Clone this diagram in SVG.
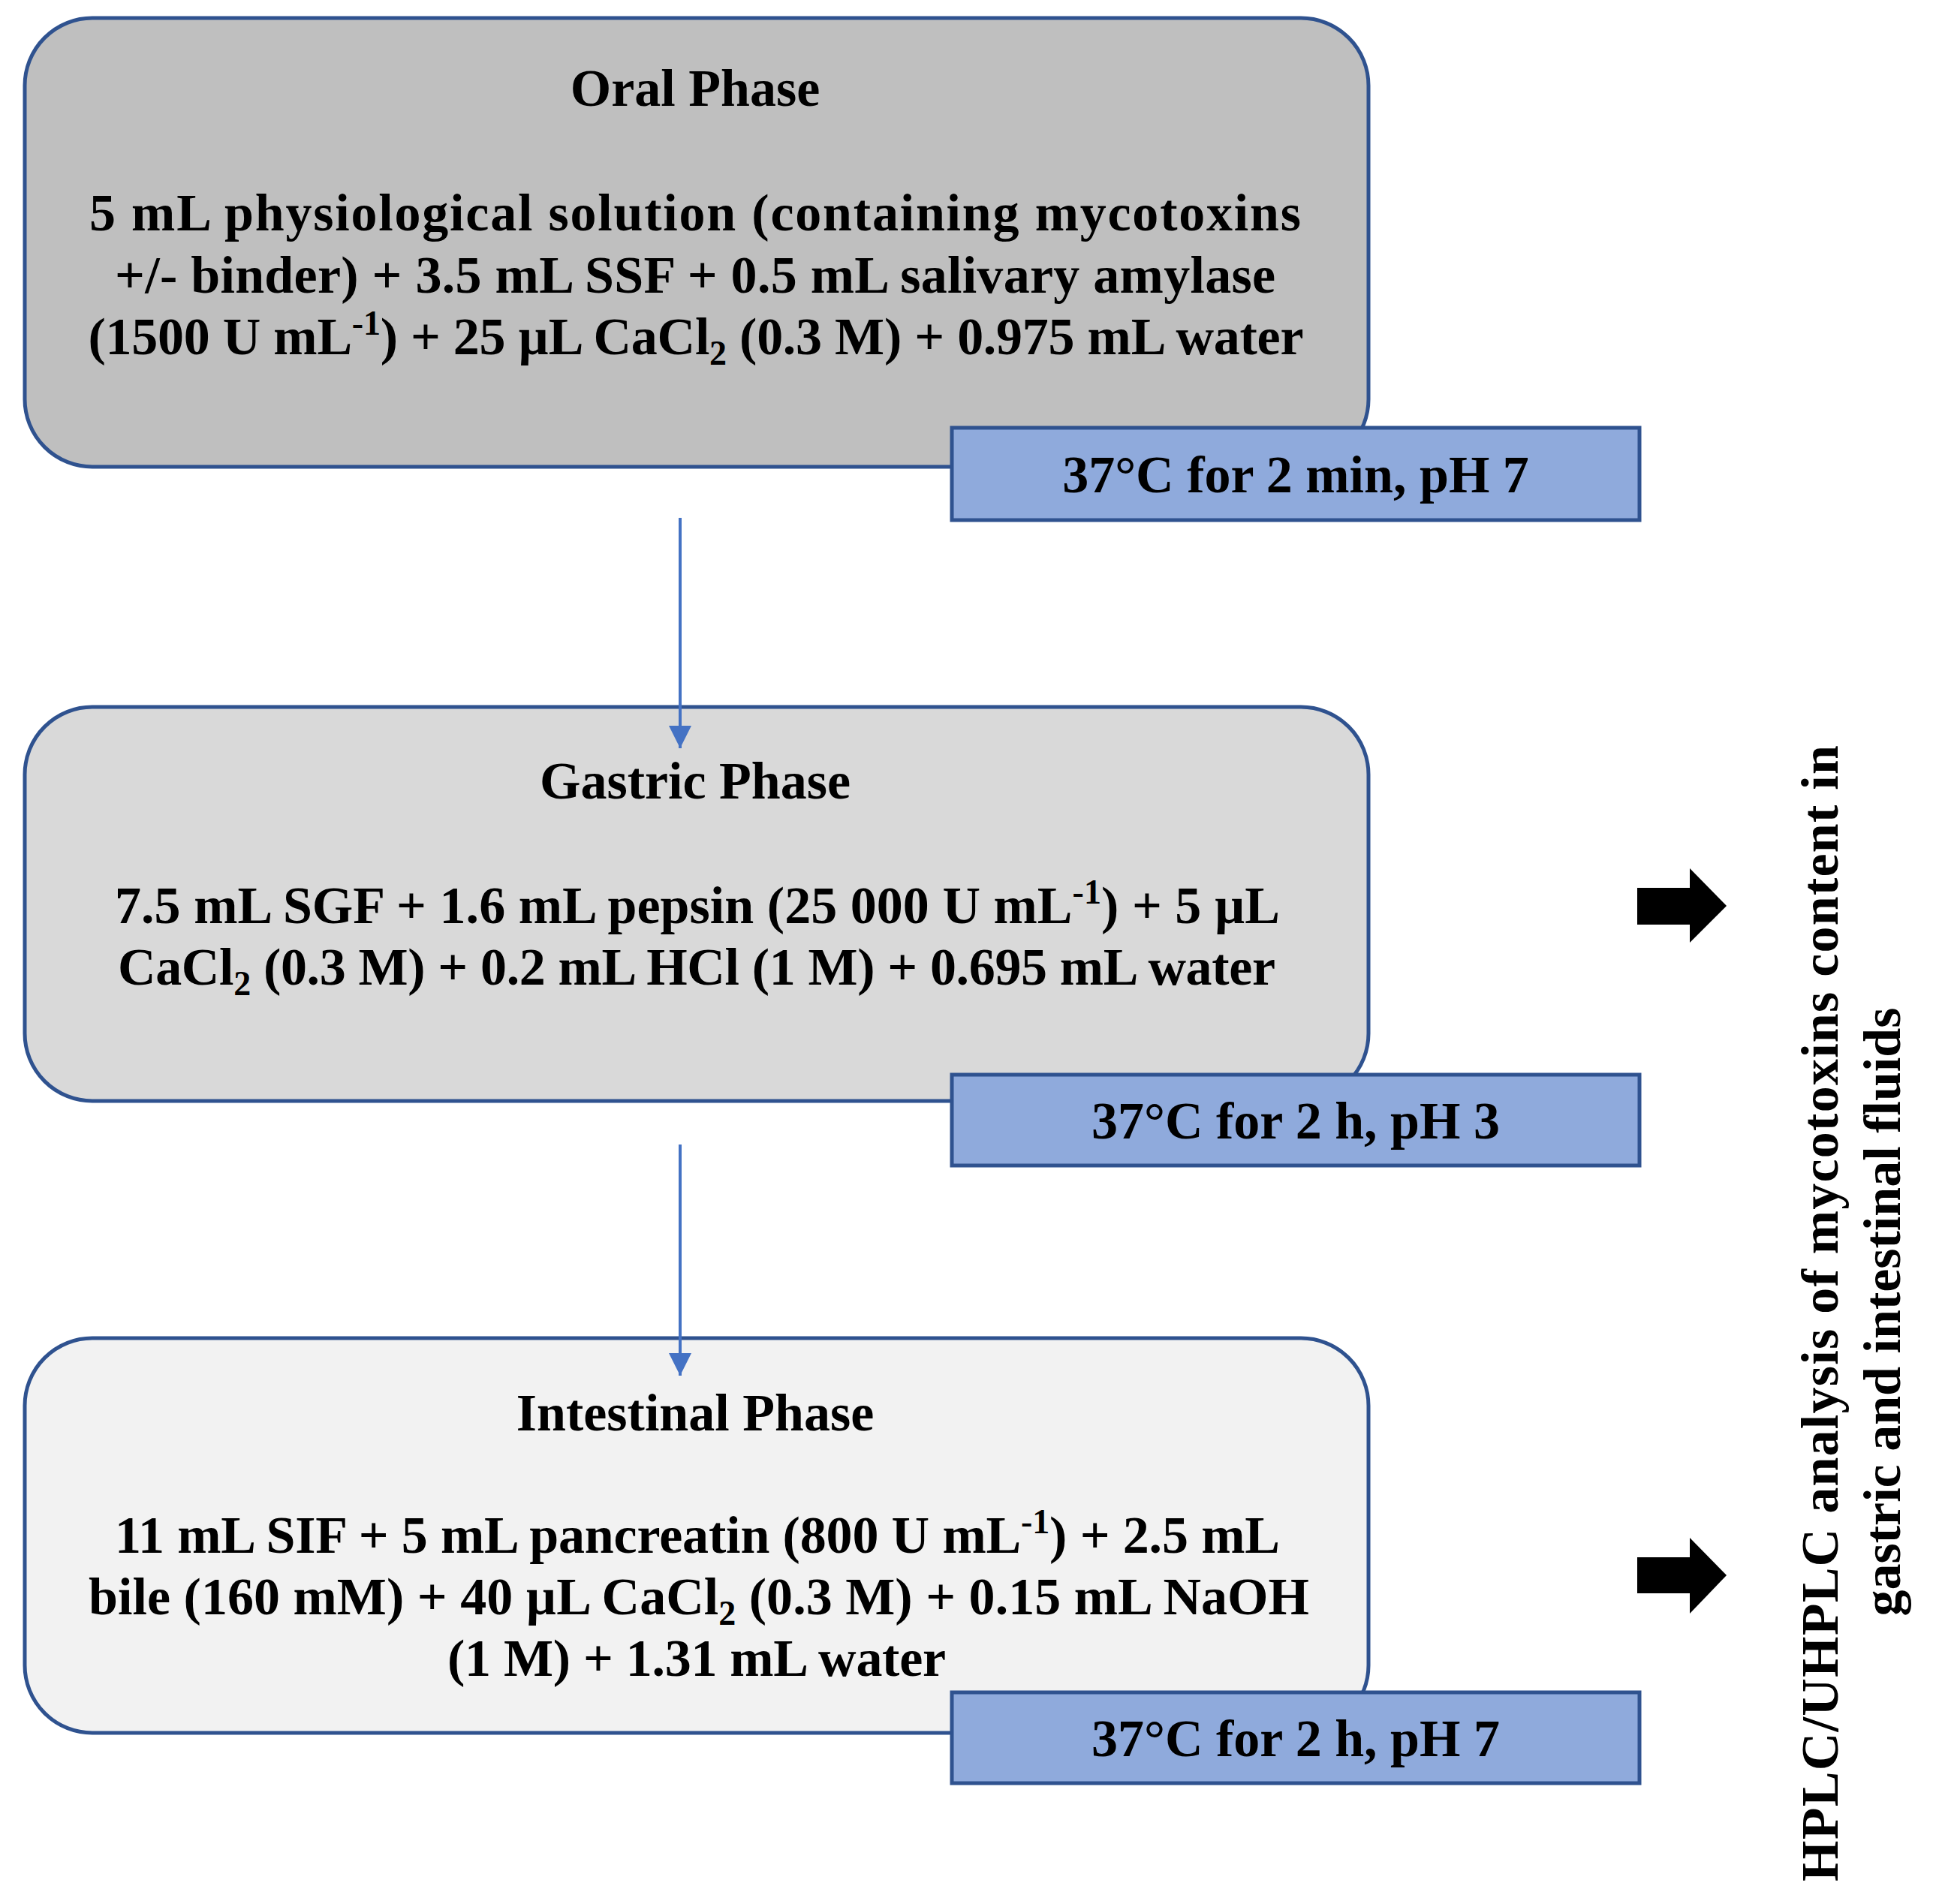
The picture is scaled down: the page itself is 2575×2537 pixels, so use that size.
<svg xmlns="http://www.w3.org/2000/svg" width="2575" height="2537" viewBox="0 0 2575 2537">
<style>
.box{stroke:#2F528F;stroke-width:5}
.lbl{fill:#8FAADC;stroke:#2F528F;stroke-width:5}
text{font-family:"Liberation Serif","Times New Roman",serif;font-weight:bold;font-size:70px;fill:#000}
.c{text-anchor:middle}
.sup{font-size:46px}
.conn{stroke:#4472C4;stroke-width:4;fill:none}
</style>
<defs>
<marker id="ah" markerUnits="userSpaceOnUse" markerWidth="30" markerHeight="30" viewBox="0 0 30 30" refX="30" refY="15" orient="auto">
<path d="M0,0 L30,15 L0,30 Z" fill="#4472C4"/>
</marker>
</defs>
<rect width="2575" height="2537" fill="#fff"/>

<g id="oral">
<rect class="box" x="33" y="24" width="1790" height="598" rx="90" ry="90" fill="#BFBFBF"/>
<text class="c" x="926" y="141">Oral Phase</text>
<text class="c" x="926" y="307" textLength="1614">5 mL physiological solution (containing mycotoxins</text>
<text class="c" x="926" y="390" textLength="1546">+/- binder) + 3.5 mL SSF + 0.5 mL salivary amylase</text>
<text class="c" x="927" y="472" textLength="1619">(1500 U mL<tspan class="sup" dy="-26">-1</tspan><tspan dy="26">) + 25 µL CaCl</tspan><tspan class="sup" dy="14">2</tspan><tspan dy="-14"> (0.3 M) + 0.975 mL water</tspan></text>
</g>
<g id="oral-cond">
<rect class="lbl" x="1268" y="570" width="916" height="123"/>
<text class="c" x="1726" y="656">37°C for 2 min, pH 7</text>
</g>

<g id="gastric">
<rect class="box" x="33" y="942" width="1790" height="525" rx="90" ry="90" fill="#D9D9D9"/>
<text class="c" x="926" y="1064">Gastric Phase</text>
<text class="c" x="929" y="1230" textLength="1552">7.5 mL SGF + 1.6 mL pepsin (25 000 U mL<tspan class="sup" dy="-26">-1</tspan><tspan dy="26">) + 5 µL</tspan></text>
<text class="c" x="928" y="1312" textLength="1542">CaCl<tspan class="sup" dy="14">2</tspan><tspan dy="-14"> (0.3 M) + 0.2 mL HCl (1 M) + 0.695 mL water</tspan></text>
</g>
<g id="gastric-cond">
<rect class="lbl" x="1268" y="1432" width="916" height="121"/>
<text class="c" x="1726" y="1517">37°C for 2 h, pH 3</text>
</g>

<g id="intestinal">
<rect class="box" x="33" y="1783" width="1790" height="526" rx="90" ry="90" fill="#F2F2F2"/>
<text class="c" x="926" y="1906">Intestinal Phase</text>
<text class="c" x="929" y="2069" textLength="1552">11 mL SIF + 5 mL pancreatin (800 U mL<tspan class="sup" dy="-26">-1</tspan><tspan dy="26">) + 2.5 mL</tspan></text>
<text class="c" x="931" y="2151" textLength="1626">bile (160 mM) + 40 µL CaCl<tspan class="sup" dy="14">2</tspan><tspan dy="-14"> (0.3 M) + 0.15 mL NaOH</tspan></text>
<text class="c" x="928" y="2233" textLength="664">(1 M) + 1.31 mL water</text>
</g>
<g id="intestinal-cond">
<rect class="lbl" x="1268" y="2255" width="916" height="121"/>
<text class="c" x="1726" y="2340">37°C for 2 h, pH 7</text>
</g>

<g id="connectors">
<line class="conn" x1="906" y1="690" x2="906" y2="997" marker-end="url(#ah)"/>
<line class="conn" x1="906" y1="1525" x2="906" y2="1833" marker-end="url(#ah)"/>
<polygon points="2181,1183 2251,1183 2251,1157 2300,1207 2251,1256 2251,1232 2181,1232" fill="#000"/>
<polygon points="2181,2075 2251,2075 2251,2049 2300,2099 2251,2150 2251,2123 2181,2123" fill="#000"/>
</g>

<g id="analysis">
<text class="c" transform="translate(2448,1750) rotate(-90)" x="0" y="0" textLength="1514">HPLC/UHPLC analysis of mycotoxins content in</text>
<text class="c" transform="translate(2531,1748) rotate(-90)" x="0" y="0">gastric and intestinal fluids</text>
</g>
</svg>
